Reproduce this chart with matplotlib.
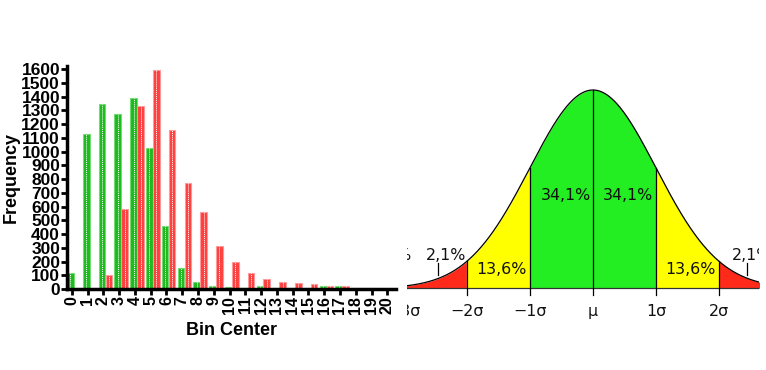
import numpy as np
import matplotlib
matplotlib.use("Agg")
import matplotlib.pyplot as plt

# left panel: frequency histogram, two series per bin
bins = np.arange(21)
green_freq = [120, 1130, 1345, 1275, 1390, 1025, 460, 150, 50, 20, 15, 10,
              25, 10, 5, 10, 20, 20, 5, 5, 3]
red_freq = [0, 0, 105, 585, 1330, 1590, 1155, 770, 560, 310, 195, 117,
            73, 51, 44, 36, 19, 20, 10, 5, 0]
y_ticks = np.arange(0, 1700, 100)

# right panel: normal distribution bands
band_edges = [-np.inf, -2, -1, 1, 2, np.inf]
band_colors = ['#ff2a1a', '#ffff00', '#22ee22', '#ffff00', '#ff2a1a']
sigma_pos = [-3, -2, -1, 0, 1, 2]
sigma_labels = ['\u22123\u03c3', '\u22122\u03c3', '\u22121\u03c3', '\u03bc',
                '1\u03c3', '2\u03c3']
pct_text = ['0,1%', '2,1%', '13,6%', '34,1%', '34,1%', '13,6%', '2,1%']
pct_x = [-2.88, -2.333, -1.446, -0.43, 0.56, 1.547, 2.206]
pct_y = [0.067, 0.067, 0.0378, 0.1877, 0.1877, 0.0378, 0.067]
pct_ha = ['right', 'center', 'center', 'center', 'center', 'center', 'left']

W, H = 766, 370
fig = plt.figure(figsize=(W / 100, H / 100), dpi=100)

# ---- histogram ----
ax = fig.add_axes([67 / W, 1 - 289 / H, (396 - 67) / W, (289 - 66.3) / H])
bw = 0.42
gx = bins - 0.08
rx = bins + 0.36
ax.bar(gx, green_freq, width=bw, color='#1fba1f', edgecolor='#72dc72', lw=0.8)
ax.bar(rx, red_freq, width=bw, color='#ff4040', edgecolor='#ff9a9a', lw=0.8)
ax.vlines(gx, 0, green_freq, colors='white', linestyles=(0, (1, 1)), lw=0.7)
ax.vlines(rx, 0, red_freq, colors='white', linestyles=(0, (1, 1)), lw=0.7)

ax.set_xlim(-0.3, 20.55)
ax.set_ylim(0, 1620)
ax.set_yticks(y_ticks)
ax.set_xticks(bins)
ax.set_xticklabels([str(b) for b in bins], rotation=90)
for sp in ['top', 'right']:
    ax.spines[sp].set_visible(False)
for sp in ['left', 'bottom']:
    ax.spines[sp].set_linewidth(2.5)
ax.tick_params(axis='both', width=2, length=4, pad=1)
for lab in ax.get_yticklabels():
    lab.set_fontfamily('Liberation Sans')
    lab.set_fontweight('bold')
    lab.set_fontsize(12.5)
for lab in ax.get_xticklabels():
    lab.set_fontfamily('Liberation Sans')
    lab.set_fontweight('bold')
    lab.set_fontsize(11.5)
ax.set_ylabel('Frequency', family='Liberation Sans', weight='bold',
              fontsize=13, labelpad=1)
ax.set_xlabel('Bin Center', family='Liberation Sans', weight='bold',
              fontsize=13, labelpad=6)

# ---- normal curve ----
bx = fig.add_axes([407 / W, 1 - 340 / H, (759 - 407) / W, (340 - 60) / H])
bx.set_xlim(-2.945, 2.63)
bx.set_ylim(-0.104, 0.4593)
bx.axis('off')

xs = np.linspace(-3.2, 3.2, 1200)
pdf = np.exp(-xs ** 2 / 2) / np.sqrt(2 * np.pi)
for i, c in enumerate(band_colors):
    m = (xs >= band_edges[i]) & (xs <= band_edges[i + 1])
    bx.fill_between(xs[m], 0, pdf[m], color=c, lw=0)
bx.plot(xs, pdf, color='black', lw=0.9)
bx.axhline(0, color='#333333', lw=0.9)
for s in sigma_pos[1:]:
    top = np.exp(-s ** 2 / 2) / np.sqrt(2 * np.pi)
    bx.plot([s, s], [-0.0135, top], color='black', lw=0.9)
for s in [-2.45, 2.443]:
    bx.plot([s, s], [0.0268, 0.0509], color='black', lw=0.9)

fkw = dict(family='DejaVu Sans', fontsize=11.4, color='#111111', clip_on=True)
for s, lab in zip(sigma_pos, sigma_labels):
    bx.text(s, -0.047, lab, ha='center', va='center', **fkw)
for t, px, py, ha in zip(pct_text, pct_x, pct_y, pct_ha):
    bx.text(px, py, t, ha=ha, va='center', **fkw)

fig.savefig('out.png', dpi=100)
